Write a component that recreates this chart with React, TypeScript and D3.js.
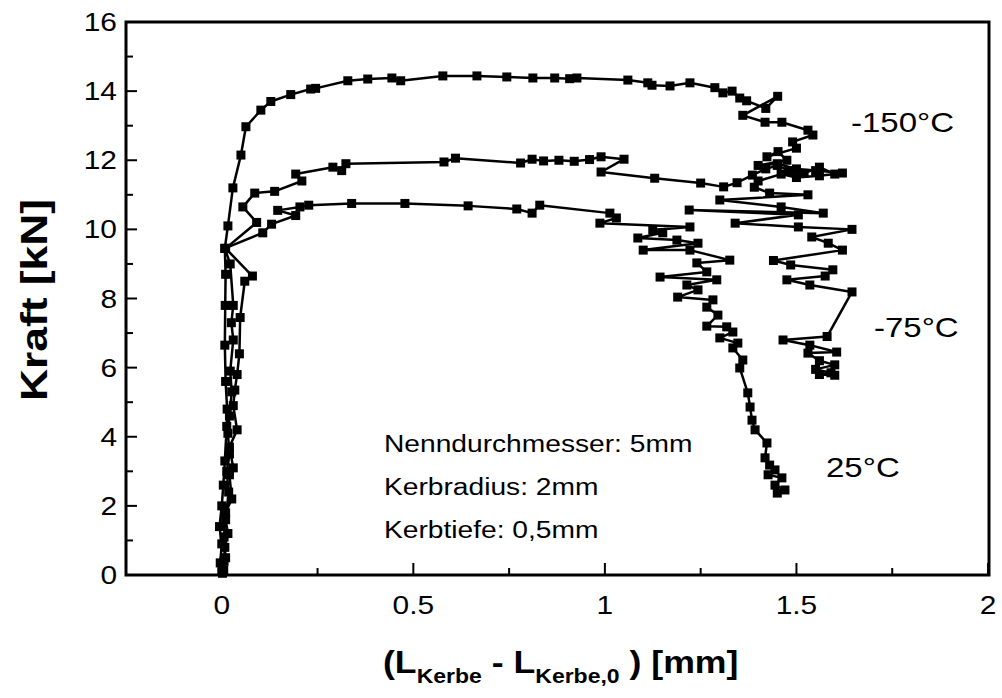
import React from "react";
import * as d3 from "d3";

// ---- data (x: L_Kerbe - L_Kerbe,0 in mm, y: Kraft in kN) ----
const seriesNames = ["-150°C", "-75°C", "25°C"];

const curveMinus150: [number, number][] = [
  [0.002, 0.05], [-0.004, 0.35], [0.0, 0.9], [-0.006, 1.4], [0.0, 2.0], [0.004, 2.6], [0.008, 3.3],
  [0.013, 4.3], [0.014, 4.8], [0.01, 5.6], [0.008, 6.65], [0.009, 7.8], [0.01, 8.7], [0.008, 9.45],
  [0.016, 10.1], [0.029, 11.2], [0.05, 12.15], [0.063, 12.97], [0.102, 13.45], [0.128, 13.7],
  [0.18, 13.9], [0.232, 14.06], [0.245, 14.08], [0.329, 14.3], [0.381, 14.35], [0.444, 14.38],
  [0.467, 14.3], [0.577, 14.44], [0.666, 14.44], [0.744, 14.41], [0.812, 14.38], [0.869, 14.38],
  [0.908, 14.36], [0.927, 14.38], [1.06, 14.32], [1.112, 14.24], [1.123, 14.17], [1.17, 14.15],
  [1.222, 14.24], [1.287, 14.1], [1.308, 13.95], [1.332, 14.0], [1.352, 13.8], [1.37, 13.72],
  [1.42, 13.5], [1.451, 13.85], [1.36, 13.3], [1.418, 13.1], [1.462, 13.1], [1.53, 12.87],
  [1.543, 12.73], [1.49, 12.53], [1.5, 12.35], [1.423, 12.1], [1.452, 12.25], [1.475, 12.0],
  [1.4, 11.85], [1.45, 11.9], [1.5, 11.75], [1.55, 11.7], [1.62, 11.63],
];

const curveMinus75: [number, number][] = [
  [0.005, 0.15], [0.01, 0.5], [0.006, 1.1], [0.01, 1.8], [0.026, 2.2], [0.02, 2.9], [0.03, 3.1],
  [0.02, 3.7], [0.04, 4.2], [0.03, 4.9], [0.034, 5.35], [0.04, 5.8], [0.046, 6.4], [0.048, 7.45],
  [0.06, 8.5], [0.08, 8.65], [0.01, 9.45], [0.091, 10.2], [0.055, 10.65], [0.086, 11.05],
  [0.138, 11.1], [0.209, 11.4], [0.193, 11.6], [0.29, 11.8], [0.313, 11.7], [0.324, 11.9],
  [0.58, 11.95], [0.61, 12.06], [0.78, 11.92], [0.81, 12.03], [0.84, 11.98], [0.88, 12.0],
  [0.92, 11.97], [0.96, 12.02], [0.99, 12.1], [1.05, 12.03], [0.99, 11.66], [1.13, 11.48],
  [1.25, 11.34], [1.31, 11.23], [1.345, 11.35], [1.385, 11.57], [1.42, 11.75], [1.45, 11.85],
  [1.48, 11.7], [1.52, 11.62], [1.56, 11.8], [1.6, 11.6], [1.56, 11.55], [1.5, 11.5], [1.46, 11.6],
  [1.4, 11.4], [1.39, 11.22], [1.43, 11.05], [1.53, 11.0], [1.3, 10.85], [1.46, 10.65], [1.57, 10.47],
  [1.22, 10.56], [1.505, 10.42], [1.34, 10.18], [1.505, 10.07], [1.645, 10.0], [1.54, 9.78],
  [1.583, 9.6], [1.62, 9.4], [1.44, 9.1], [1.485, 8.97], [1.595, 8.83], [1.575, 8.65], [1.475, 8.54],
  [1.535, 8.39], [1.645, 8.19], [1.58, 6.9], [1.465, 6.8], [1.535, 6.65], [1.605, 6.45], [1.53, 6.42],
  [1.56, 6.2], [1.6, 6.08], [1.55, 5.95], [1.59, 5.85], [1.56, 5.8], [1.6, 5.78],
];

const curvePlus25: [number, number][] = [
  [0.0, 0.1], [0.006, 0.4], [0.008, 0.8], [0.016, 1.2], [0.01, 1.6], [0.018, 2.4], [0.013, 3.0],
  [0.02, 3.5], [0.016, 4.1], [0.02, 4.6], [0.026, 5.3], [0.022, 5.9], [0.03, 6.8], [0.025, 7.3],
  [0.03, 7.8], [0.022, 9.0], [0.008, 9.45], [0.107, 9.9], [0.13, 10.15], [0.193, 10.4], [0.146, 10.55],
  [0.204, 10.65], [0.227, 10.7], [0.339, 10.75], [0.478, 10.75], [0.643, 10.68], [0.77, 10.59],
  [0.81, 10.47], [0.83, 10.7], [1.013, 10.47], [1.03, 10.33], [0.987, 10.18], [1.222, 10.07],
  [1.125, 9.98], [1.151, 9.9], [1.086, 9.75], [1.188, 9.69], [1.243, 9.6], [1.1, 9.4], [1.222, 9.4],
  [1.326, 9.11], [1.24, 9.03], [1.266, 8.77], [1.144, 8.62], [1.292, 8.54], [1.214, 8.39], [1.243, 8.25],
  [1.19, 8.04], [1.282, 7.96], [1.266, 7.75], [1.295, 7.52], [1.266, 7.2], [1.318, 7.18], [1.334, 7.03],
  [1.3, 6.86], [1.347, 6.71], [1.334, 6.57], [1.36, 6.22], [1.352, 5.99], [1.373, 5.27], [1.379, 4.86],
  [1.384, 4.48], [1.392, 4.2], [1.423, 3.82], [1.418, 3.39], [1.43, 3.18], [1.444, 3.04], [1.426, 2.9],
  [1.462, 2.81], [1.444, 2.6], [1.47, 2.46], [1.45, 2.37],
];

const xTicksMajor = [0, 0.5, 1, 1.5, 2];
const xTickLabels = ["0", "0.5", "1", "1.5", "2"];
const xTicksMinor = [0.25, 0.75, 1.25, 1.75];
const yTicksMajor = [0, 2, 4, 6, 8, 10, 12, 14, 16];
const yTicksMinor = [1, 3, 5, 7, 9, 11, 13, 15];

const noteLines = ["Nenndurchmesser: 5mm", "Kerbradius: 2mm", "Kerbtiefe: 0,5mm"];

const FONT = "'Liberation Sans', Arial, Helvetica, sans-serif";

function SText(props: {
  x: number; y: number; sx?: number; size: number; anchor?: string; bold?: boolean; rotate?: number; children: React.ReactNode;
}) {
  const { x, y, sx = 1.2, size, anchor = "start", bold, rotate = 0, children } = props;
  return (
    <text
      transform={`translate(${x},${y}) rotate(${rotate}) scale(${sx},1)`}
      fontSize={size}
      fontFamily={FONT}
      fontWeight={bold ? "bold" : "normal"}
      textAnchor={anchor}
      fill="#000"
    >
      {children}
    </text>
  );
}

export default function App() {
  const L = 126, R = 988, T = 22, B = 575;
  const x = d3.scaleLinear().domain([-0.25, 2]).range([L, R]);
  const y = d3.scaleLinear().domain([0, 16]).range([B, T]);
  const line = d3.line<[number, number]>().x((d) => x(d[0])).y((d) => y(d[1]));
  const curves = [curveMinus150, curveMinus75, curvePlus25];
  const ms = 9;

  return (
    <svg width={1002} height={698} style={{ position: "absolute", left: 0, top: 0, background: "#fff" }}>
      <rect x={0} y={0} width={1002} height={698} fill="#fff" />
      {/* curves */}
      {curves.map((c, i) => (
        <g key={seriesNames[i]}>
          <path d={line(c) || ""} fill="none" stroke="#000" strokeWidth={2.5} strokeLinejoin="round" />
          {c.map((d, j) => (
            <rect key={j} x={x(d[0]) - ms / 2} y={y(d[1]) - ms / 2} width={ms} height={ms} fill="#000" />
          ))}
        </g>
      ))}
      {/* frame */}
      <rect x={L} y={T} width={R - L + 1} height={B - T} fill="none" stroke="#000" strokeWidth={3} />
      {/* y ticks */}
      {yTicksMajor.map((v) => (
        <line key={"ym" + v} x1={L} x2={L + 11} y1={y(v)} y2={y(v)} stroke="#000" strokeWidth={2} />
      ))}
      {yTicksMinor.map((v) => (
        <line key={"yn" + v} x1={L} x2={L + 7} y1={y(v)} y2={y(v)} stroke="#000" strokeWidth={2} />
      ))}
      {/* x ticks */}
      {xTicksMajor.map((v) => (
        <line key={"xm" + v} x1={x(v)} x2={x(v)} y1={B} y2={B - 12} stroke="#000" strokeWidth={2} />
      ))}
      {xTicksMinor.map((v) => (
        <line key={"xn" + v} x1={x(v)} x2={x(v)} y1={B} y2={B - 7} stroke="#000" strokeWidth={2} />
      ))}
      {/* tick labels */}
      {yTicksMajor.map((v) => (
        <SText key={"yl" + v} x={117} y={y(v) + 9} size={26} anchor="end" sx={1.15}>{String(v)}</SText>
      ))}
      {xTicksMajor.map((v, i) => (
        <SText key={"xl" + v} x={x(v)} y={614} size={26} anchor="middle" sx={1.15}>{xTickLabels[i]}</SText>
      ))}
      {/* axis titles */}
      <SText x={47} y={300} size={37} bold anchor="middle" rotate={-90} sx={1.2}>Kraft [kN]</SText>
      <SText x={383} y={673} size={31} bold anchor="start" sx={1.15}>
        <tspan>(L</tspan>
        <tspan fontSize={20} dy={10}>Kerbe</tspan>
        <tspan dy={-10}> - L</tspan>
        <tspan fontSize={20} dy={10}>Kerbe,0</tspan>
        <tspan dy={-10}> ) [mm]</tspan>
      </SText>
      {/* annotations */}
      {noteLines.map((t, i) => (
        <SText key={t} x={384} y={452 + i * 43} size={24.5} sx={1.15}>{t}</SText>
      ))}
      <SText x={851} y={132} size={27.5} sx={1.2}>{seriesNames[0]}</SText>
      <SText x={874} y={337} size={27.5} sx={1.2}>{seriesNames[1]}</SText>
      <SText x={826} y={477} size={27.5} sx={1.2}>{seriesNames[2]}</SText>
    </svg>
  );
}
